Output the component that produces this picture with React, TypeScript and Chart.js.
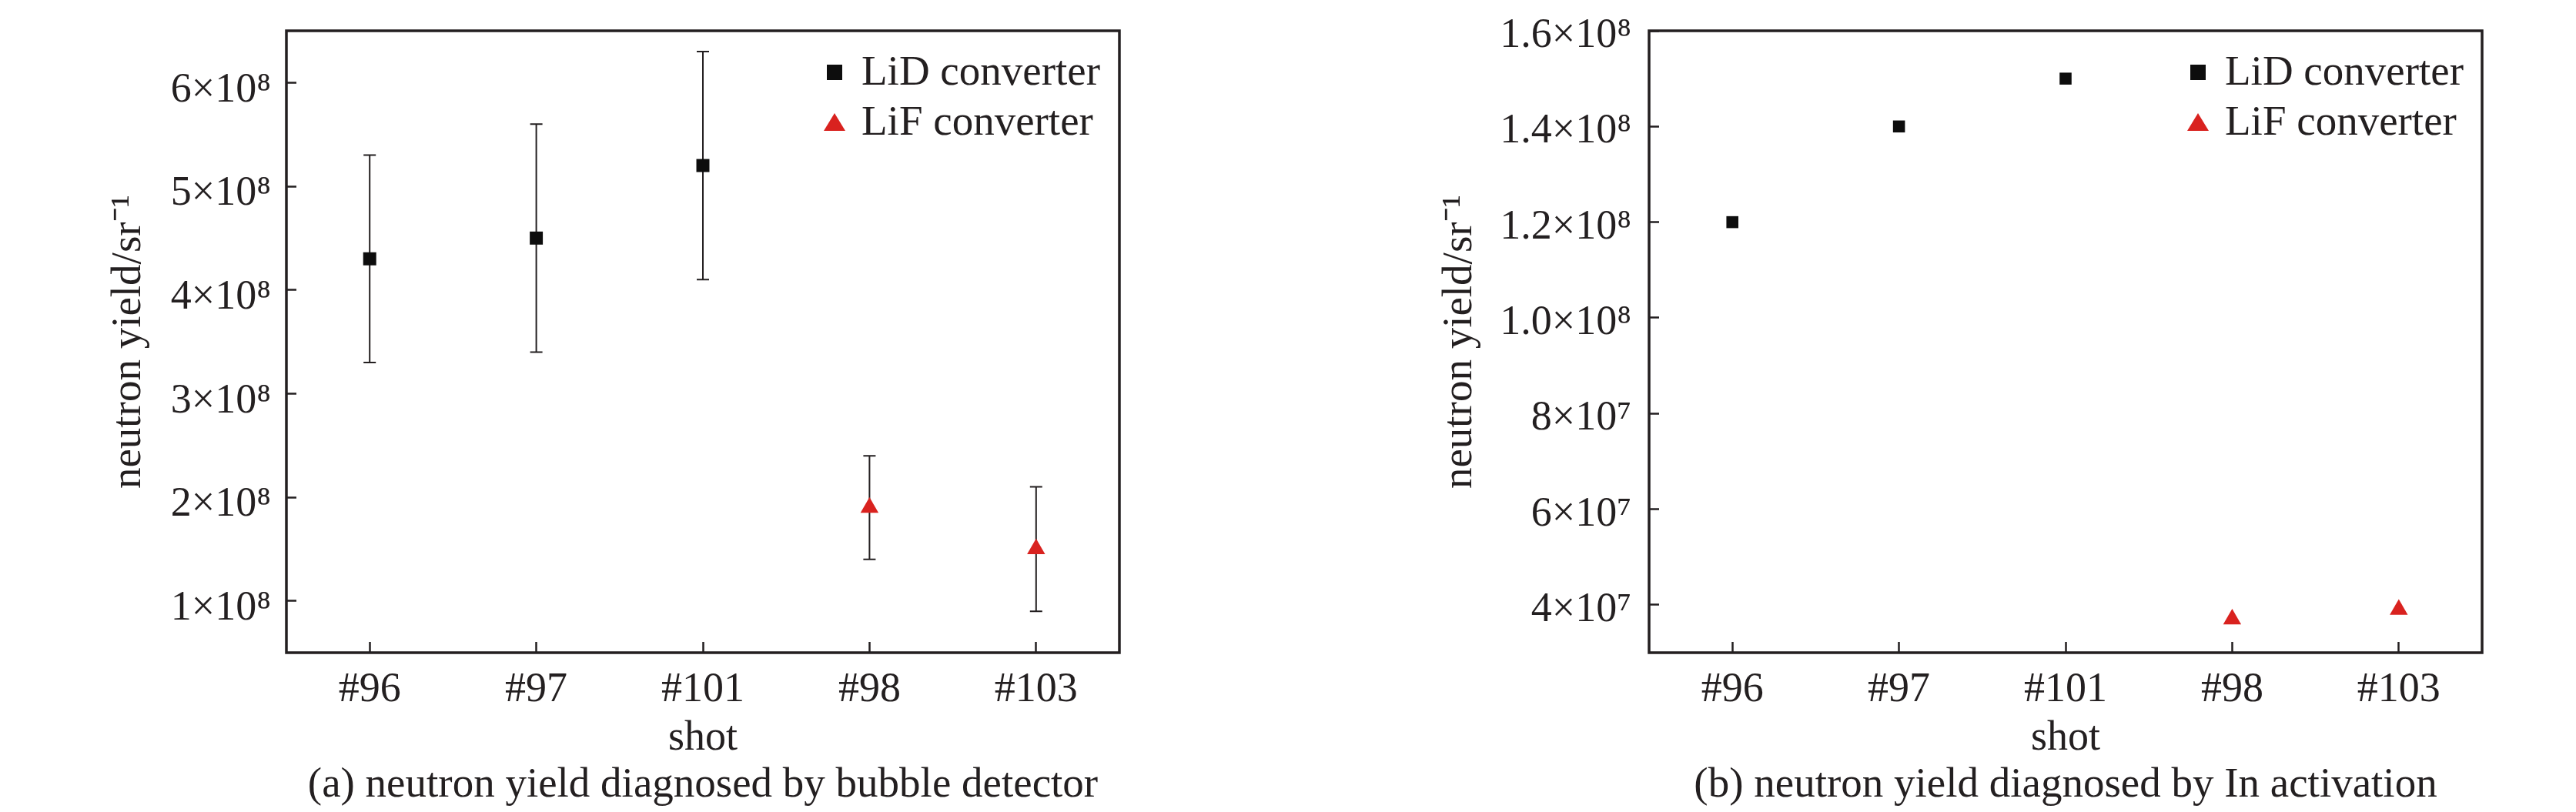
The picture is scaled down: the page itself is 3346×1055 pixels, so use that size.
import React, { useEffect, useRef } from 'react';
import { Chart, registerables } from 'chart.js';

Chart.register(...registerables);

// ---------- data ----------
const shots = ['#96', '#97', '#101', '#98', '#103'];
const seriesNames = ['LiD converter', 'LiF converter'];
const xTitle = 'shot';
const yTitle = 'neutron yield/sr⁻¹';

// (a) bubble detector
const bubbleLiD = [4.3e8, 4.5e8, 5.2e8, null, null];
const bubbleLiF = [null, null, null, 1.9e8, 1.5e8];
const bubbleErrLow = [3.3e8, 3.4e8, 4.1e8, 1.4e8, 0.9e8];
const bubbleErrHigh = [5.3e8, 5.6e8, 6.3e8, 2.4e8, 2.1e8];
const bubbleTicks = [1e8, 2e8, 3e8, 4e8, 5e8, 6e8];
const bubbleTickLabels = ['1×10⁸', '2×10⁸', '3×10⁸', '4×10⁸', '5×10⁸', '6×10⁸'];
const bubbleRange = [0.5e8, 6.5e8];
const bubbleCaption = '(a) neutron yield diagnosed by bubble detector';

// (b) In activation
const inLiD = [1.2e8, 1.4e8, 1.5e8, null, null];
const inLiF = [null, null, null, 3.7e7, 3.9e7];
const inTicks = [4e7, 6e7, 8e7, 1.0e8, 1.2e8, 1.4e8, 1.6e8];
const inTickLabels = ['4×10⁷', '6×10⁷', '8×10⁷', '1.0×10⁸', '1.2×10⁸', '1.4×10⁸', '1.6×10⁸'];
const inRange = [3e7, 1.6e8];
const inCaption = '(b) neutron yield diagnosed by In activation';

// ---------- style ----------
const FONT = "'Liberation Serif', 'Times New Roman', serif";
const INK = '#231f20';
const BLACK = '#0d0d0d';
const RED = '#d9221f';
const W = 1673;
const H = 1055;
const PLOT_TOP = 40;
const PAD_BOTTOM = 56;
const X_SCALE_H = 151;

type PanelProps = {
  lid: (number | null)[];
  lif: (number | null)[];
  errLow?: number[];
  errHigh?: number[];
  ticks: number[];
  tickLabels: string[];
  range: number[];
  caption: string;
  yScaleWidth: number;
  padRight: number;
  yTitlePad: number;
  yTickPad: number;
  yLabelOffset: number;
  squareR: number;
  left: number;
  legendDx: number;
  legendDy: number;
};

function Panel(p: PanelProps) {
  const ref = useRef<HTMLCanvasElement | null>(null);

  useEffect(() => {
    const canvas = ref.current;
    if (!canvas) return;

    const errorBars = {
      id: 'errorBars',
      beforeDatasetsDraw(chart: any) {
        if (!p.errLow || !p.errHigh) return;
        const { ctx } = chart;
        const xs = chart.scales.x;
        const ys = chart.scales.y;
        ctx.save();
        ctx.strokeStyle = INK;
        ctx.lineWidth = 2;
        for (let i = 0; i < shots.length; i++) {
          const x = xs.getPixelForValue(i);
          const y1 = ys.getPixelForValue(p.errLow[i]);
          const y2 = ys.getPixelForValue(p.errHigh[i]);
          ctx.beginPath();
          ctx.moveTo(x, y1);
          ctx.lineTo(x, y2);
          ctx.moveTo(x - 8, y1);
          ctx.lineTo(x + 8, y1);
          ctx.moveTo(x - 8, y2);
          ctx.lineTo(x + 8, y2);
          ctx.stroke();
        }
        ctx.restore();
      },
    };

    const decorations = {
      id: 'decorations',
      afterDraw(chart: any) {
        const { ctx, chartArea: a } = chart;
        ctx.save();
        // frame
        ctx.strokeStyle = INK;
        ctx.lineWidth = 3.5;
        ctx.strokeRect(a.left, a.top, a.right - a.left, a.bottom - a.top);
        // legend
        const mx = a.right - p.legendDx;
        const r1 = a.top + p.legendDy;
        const r2 = r1 + 65;
        ctx.fillStyle = BLACK;
        ctx.fillRect(mx - 10, r1 - 10, 20, 20);
        ctx.fillStyle = RED;
        ctx.beginPath();
        ctx.moveTo(mx, r2 - 12);
        ctx.lineTo(mx + 14, r2 + 11);
        ctx.lineTo(mx - 14, r2 + 11);
        ctx.closePath();
        ctx.fill();
        ctx.fillStyle = INK;
        ctx.font = `55px ${FONT}`;
        ctx.textAlign = 'left';
        ctx.textBaseline = 'middle';
        ctx.fillText(seriesNames[0], mx + 35, r1 + 2);
        ctx.fillText(seriesNames[1], mx + 35, r2 + 2);
        // caption
        ctx.textAlign = 'center';
        ctx.textBaseline = 'alphabetic';
        ctx.fillText(p.caption, (a.left + a.right) / 2, 1035);
        ctx.restore();
      },
    };

    const noPad = (s: any) => {
      s.paddingTop = 0;
      s.paddingBottom = 0;
      s.paddingLeft = 0;
      s.paddingRight = 0;
    };

    const chart = new Chart(canvas, {
      type: 'line',
      data: {
        labels: shots,
        datasets: [
          {
            label: seriesNames[0],
            data: p.lid,
            showLine: false,
            pointStyle: 'rect',
            pointRadius: p.squareR,
            pointHoverRadius: p.squareR,
            pointBorderWidth: 0,
            pointBackgroundColor: BLACK,
            borderColor: BLACK,
          },
          {
            label: seriesNames[1],
            data: p.lif,
            showLine: false,
            pointStyle: 'triangle',
            pointRadius: 13.5,
            pointHoverRadius: 13.5,
            pointBorderWidth: 0,
            pointBackgroundColor: RED,
            borderColor: RED,
          },
        ],
      },
      options: {
        animation: false,
        responsive: false,
        devicePixelRatio: 1,
        events: [],
        layout: { padding: { top: PLOT_TOP, left: 0, right: p.padRight, bottom: PAD_BOTTOM } },
        plugins: { legend: { display: false }, tooltip: { enabled: false } },
        scales: {
          x: {
            type: 'category',
            offset: true,
            grid: {
              display: true,
              drawOnChartArea: false,
              drawTicks: true,
              tickLength: -14,
              tickWidth: 2.5,
              tickColor: INK,
            },
            border: { display: false },
            ticks: {
              color: INK,
              font: { family: FONT, size: 54, lineHeight: 1.2 },
              padding: 30,
              maxRotation: 0,
              autoSkip: false,
            },
            title: {
              display: true,
              text: xTitle,
              color: INK,
              font: { family: FONT, size: 54, lineHeight: 1.2 },
              padding: { top: 0, bottom: 7 },
            },
            afterFit: (s: any) => {
              s.height = X_SCALE_H;
              noPad(s);
            },
          },
          y: {
            type: 'linear',
            min: p.range[0],
            max: p.range[1],
            grid: {
              display: true,
              drawOnChartArea: false,
              drawTicks: true,
              tickLength: -13,
              tickWidth: 2.5,
              tickColor: INK,
            },
            border: { display: false },
            afterBuildTicks: (s: any) => {
              s.ticks = p.ticks.map((v) => ({ value: v }));
            },
            ticks: {
              color: INK,
              font: { family: FONT, size: 54, lineHeight: 1.2 },
              padding: p.yTickPad,
              labelOffset: p.yLabelOffset,
              callback: (_v: any, i: number) => p.tickLabels[i],
            },
            title: {
              display: true,
              text: yTitle,
              color: INK,
              font: { family: FONT, size: 55, lineHeight: 1.2 },
              padding: { top: p.yTitlePad, bottom: 0 },
            },
            afterFit: (s: any) => {
              s.width = p.yScaleWidth;
              noPad(s);
            },
          },
        },
      },
      plugins: [errorBars, decorations],
    } as any);

    return () => chart.destroy();
  }, []);

  return (
    <canvas
      ref={ref}
      width={W}
      height={H}
      style={{ position: 'absolute', left: p.left, top: 0, width: W, height: H }}
    />
  );
}

export default function App() {
  return (
    <div
      style={{
        position: 'fixed',
        left: 0,
        top: 0,
        width: 3346,
        height: 1055,
        background: '#ffffff',
        overflow: 'hidden',
      }}
    >
      <Panel
        lid={bubbleLiD}
        lif={bubbleLiF}
        errLow={bubbleErrLow}
        errHigh={bubbleErrHigh}
        ticks={bubbleTicks}
        tickLabels={bubbleTickLabels}
        range={bubbleRange}
        caption={bubbleCaption}
        yScaleWidth={372}
        padRight={219}
        yTitlePad={135}
        yTickPad={33}
        yLabelOffset={10}
        squareR={12}
        left={0}
        legendDx={370}
        legendDy={54}
      />
      <Panel
        lid={inLiD}
        lif={inLiF}
        ticks={inTicks}
        tickLabels={inTickLabels}
        range={inRange}
        caption={inCaption}
        yScaleWidth={469}
        padRight={122}
        yTitlePad={191}
        yTickPad={36}
        yLabelOffset={7}
        squareR={11}
        left={1673}
        legendDx={369}
        legendDy={54}
      />
    </div>
  );
}
